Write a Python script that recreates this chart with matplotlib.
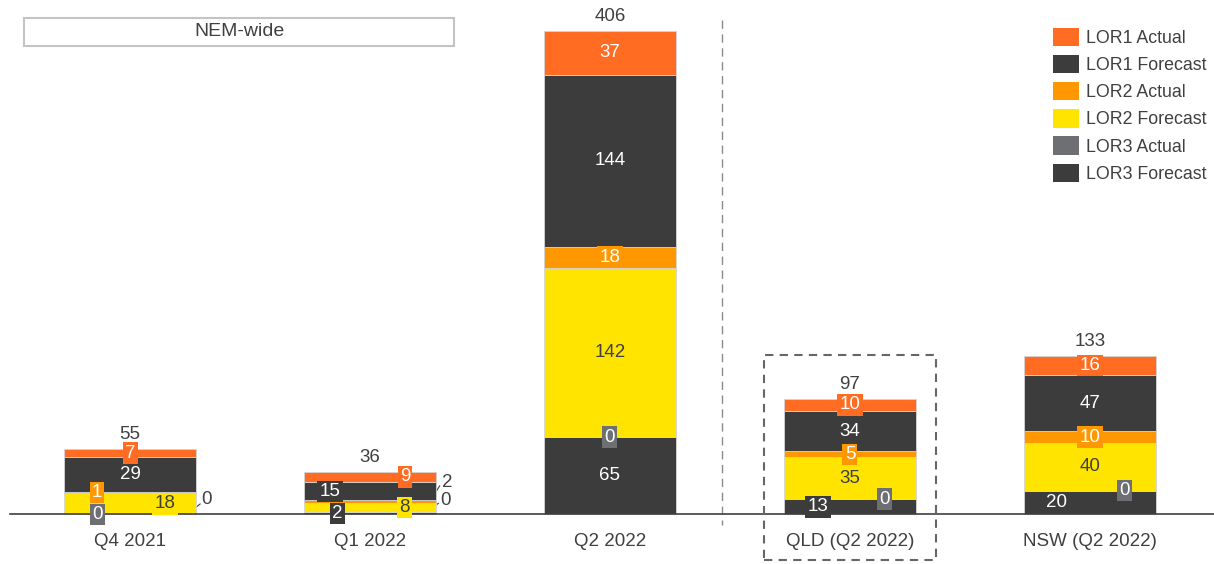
import matplotlib
matplotlib.use("Agg")
import matplotlib.pyplot as plt
from matplotlib.patches import Rectangle, Patch
import numpy as np

plt.rcParams['font.family'] = ['Liberation Sans', 'DejaVu Sans']

# data
categories = ['Q4 2021', 'Q1 2022', 'Q2 2022', 'QLD (Q2 2022)', 'NSW (Q2 2022)']
lor3_forecast = [0, 2, 65, 13, 20]
lor3_actual = [0, 0, 0, 0, 0]
lor2_forecast = [18, 8, 142, 35, 40]
lor2_actual = [1, 2, 18, 5, 10]
lor1_forecast = [29, 15, 144, 34, 47]
lor1_actual = [7, 9, 37, 10, 16]

# stacking order, bottom to top
series = [
    ('LOR3 Forecast', lor3_forecast, '#3c3c3c', 'white'),
    ('LOR3 Actual', lor3_actual, '#6d6f72', 'white'),
    ('LOR2 Forecast', lor2_forecast, '#ffe400', '#404040'),
    ('LOR2 Actual', lor2_actual, '#ff9800', 'white'),
    ('LOR1 Forecast', lor1_forecast, '#3c3c3c', 'white'),
    ('LOR1 Actual', lor1_actual, '#ff6c22', 'white'),
]

FS = 13.5

# horizontal nudges for labels of thin segments
label_dx = {
    ('LOR2 Actual', 0): -0.1375, ('LOR2 Forecast', 0): 0.146, ('LOR3 Actual', 0): -0.1375,
    ('LOR3 Forecast', 1): -0.1375, ('LOR2 Forecast', 1): 0.142,
    ('LOR1 Forecast', 1): -0.167, ('LOR1 Actual', 1): 0.146,
    ('LOR3 Forecast', 3): -0.133, ('LOR3 Actual', 3): 0.142,
    ('LOR3 Forecast', 4): -0.139, ('LOR3 Actual', 4): 0.143,
}
# labels moved outside the bar with a leader line: (x0, y0, x1, y1, xt, yt)
callouts = {
    ('LOR3 Forecast', 0): (0.243, 1.0, 0.292, 8.8, 0.32, 12.2),
    ('LOR3 Actual', 1): (0.236, 2.4, 0.285, 9.4, 0.315, 11.5),
    ('LOR2 Actual', 1): (0.25, 11.0, 0.29, 24.0, 0.32, 26.5),
}

fig = plt.figure(figsize=(12.14, 5.64), dpi=100)
ax = fig.add_axes([0, 0, 1, 1])

x = np.arange(len(categories))
width = 0.554
bottom = np.zeros(len(categories))
for name, vals, color, tcolor in series:
    vals = np.array(vals, dtype=float)
    ax.bar(x, vals, width, bottom=bottom, color=color, edgecolor='#d4d4d4',
           linewidth=0.6, label=name, zorder=2)
    for i, v in enumerate(vals):
        if (name, i) in callouts:
            x0, y0, x1, y1, xt, yt = callouts[(name, i)]
            ax.plot([x[i] + x0, x[i] + x1], [y0, y1], color='#404040', lw=0.8, zorder=1)
            ax.text(x[i] + xt, yt, f'{int(v)}', ha='center', va='center',
                    fontsize=FS, color='#404040', zorder=4)
            continue
        xt = x[i] + label_dx.get((name, i), 0)
        yt = bottom[i] + v / 2
        ax.text(xt, yt, f'{int(v)}', ha='center', va='center', fontsize=FS,
                color=tcolor, zorder=4,
                bbox=dict(boxstyle='square,pad=0.12', fc=color, ec='none'))
    bottom += vals

for i, tot in enumerate(bottom):
    ax.text(x[i], tot + 12.0, f'{int(tot)}', ha='center', va='center',
            fontsize=FS, color='#404040')

# axes mapped so the figure is the plot area
ax.set_xlim(-0.5417, 4.5167)
ax.set_ylim(-41.57, 432.0)
for s in ['top', 'right', 'left']:
    ax.spines[s].set_visible(False)
ax.spines['bottom'].set_position(('data', 0))
ax.spines['bottom'].set_bounds(-0.5, 4.5167)
ax.spines['bottom'].set_color('#404040')
ax.spines['bottom'].set_linewidth(1.2)
ax.set_yticks([])
ax.set_xticks(x)
ax.set_xticklabels(categories, fontsize=FS, color='#404040')
ax.tick_params(axis='x', length=0, pad=13.5)

# separator and QLD highlight
ax.plot([2.467, 2.467], [415, -8.8], color='#8a8a8a', lw=1, ls=(0, (6, 4)), clip_on=False)
ax.add_patch(Rectangle((2.642, -38.2), 0.716, 172.1, fill=False, ec='#666666',
                       lw=1.5, ls=(0, (4, 3)), zorder=3, clip_on=False))

# NEM-wide box
ax.add_patch(Rectangle((24 / 1214, 1 - 46 / 564), 430 / 1214, 28 / 564, fill=False,
                       ec='#c4c4c4', lw=1.5, transform=ax.transAxes))
ax.text(239 / 1214, 1 - 32 / 564, 'NEM-wide', transform=ax.transAxes,
        ha='center', va='center', fontsize=14, color='#404040')

handles = [Patch(fc=c, ec='none') for _, _, c, _ in series][::-1]
labels = [n for n, _, _, _ in series][::-1]
leg = ax.legend(handles, labels, loc='upper left', bbox_to_anchor=(1053 / 1214, 1 - 28 / 564),
                frameon=False, fontsize=12.8, handlelength=1.45, handleheight=1.2,
                labelspacing=0.45, handletextpad=0.4, borderpad=0, borderaxespad=0)
for t in leg.get_texts():
    t.set_color('#404040')

fig.savefig('out.png', dpi=100)
